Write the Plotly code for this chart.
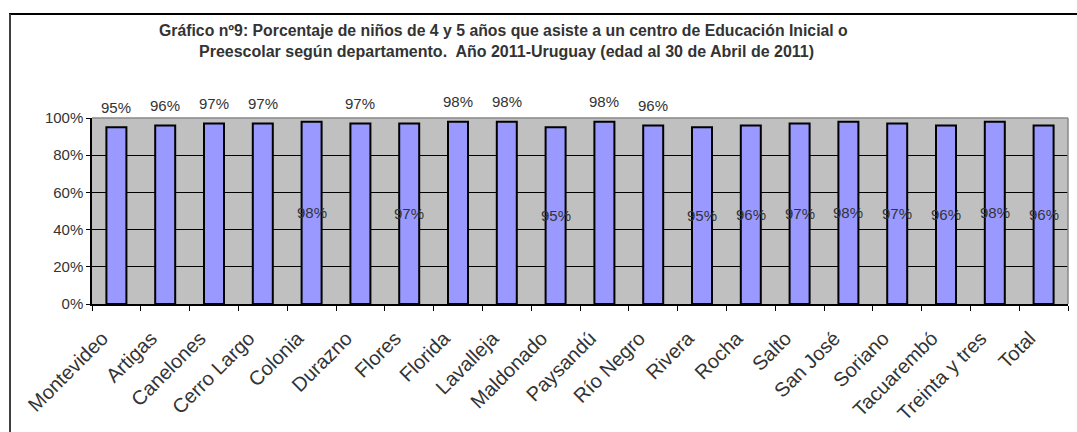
import plotly.graph_objects as go

categories = ["Montevideo", "Artigas", "Canelones", "Cerro Largo", "Colonia", "Durazno",
              "Flores", "Florida", "Lavalleja", "Maldonado", "Paysandú", "Río Negro",
              "Rivera", "Rocha", "Salto", "San José", "Soriano", "Tacuarembó",
              "Treinta y tres", "Total"]
values = [95, 96, 97, 97, 98, 97, 97, 98, 98, 95, 98, 96, 95, 96, 97, 98, 97, 96, 98, 96]
label_pos = ["out", "out", "out", "out", "in", "out", "in", "out", "out", "in",
             "out", "out", "in", "in", "in", "in", "in", "in", "in", "in"]
y_ticks = [0, 20, 40, 60, 80, 100]
y_tick_labels = ["0%", "20%", "40%", "60%", "80%", "100%"]
title_lines = ["Gráfico nº9: Porcentaje de niños de 4 y 5 años que asiste a un centro de Educación Inicial o",
               "Preescolar según departamento.  Año 2011-Uruguay (edad al 30 de Abril de 2011)"]

W, H = 1077, 432
L, R, T, B = 92, 9, 118, 128
pw, ph = W - L - R, H - T - B

def px_to_paper_x(px):
    return (px - L) / pw

def px_to_paper_y(py):
    return (H - B - py) / ph

FONT = "Liberation Sans, Arial, sans-serif"

fig = go.Figure()
fig.add_trace(go.Bar(
    x=categories, y=values,
    marker=dict(color="#9999FF", line=dict(color="#000000", width=2)),
    hoverinfo="x+y",
))

annotations = []
for c, v, p in zip(categories, values, label_pos):
    if p == "out":
        annotations.append(dict(x=c, y=v, xref="x", yref="y", text=f"{v}%",
                                showarrow=False, yanchor="middle", yshift=20,
                                font=dict(family=FONT, size=15, color="#333333")))
    else:
        annotations.append(dict(x=c, y=v / 2, xref="x", yref="y", text=f"{v}%",
                                showarrow=False, yanchor="middle",
                                font=dict(family=FONT, size=15, color="#333333")))

annotations.append(dict(x=px_to_paper_x(503), y=px_to_paper_y(30), xref="paper", yref="paper",
                        text=f"<b>{title_lines[0]}</b>", showarrow=False,
                        xanchor="center", yanchor="middle",
                        font=dict(family=FONT, size=15.8, color="#333333")))
annotations.append(dict(x=px_to_paper_x(506), y=px_to_paper_y(51), xref="paper", yref="paper",
                        text=f"<b>{title_lines[1]}</b>", showarrow=False,
                        xanchor="center", yanchor="middle",
                        font=dict(family=FONT, size=16, color="#333333")))

shapes = [
    dict(type="line", xref="paper", yref="paper",
         x0=px_to_paper_x(9), x1=px_to_paper_x(W + 5), y0=px_to_paper_y(14), y1=px_to_paper_y(14),
         line=dict(color="#000000", width=2)),
    dict(type="line", xref="paper", yref="paper",
         x0=px_to_paper_x(10), x1=px_to_paper_x(10), y0=px_to_paper_y(14), y1=px_to_paper_y(H + 5),
         line=dict(color="#404040", width=2)),
    dict(type="line", xref="paper", yref="paper", x0=0, x1=1, y0=1, y1=1,
         line=dict(color="#888888", width=1.5), layer="above"),
    dict(type="line", xref="paper", yref="paper", x0=1, x1=1, y0=0, y1=1,
         line=dict(color="#888888", width=1.5), layer="above"),
]

fig.update_layout(
    width=W, height=H,
    margin=dict(l=L, r=R, t=T, b=B, pad=0),
    paper_bgcolor="#FFFFFF", plot_bgcolor="#C0C0C0",
    bargap=0.59, showlegend=False,
    annotations=annotations, shapes=shapes,
    font=dict(family=FONT, color="#333333"),
)
fig.update_xaxes(
    tickangle=-45, tickfont=dict(family=FONT, size=20, color="#333333"),
    showline=True, linecolor="#000000", linewidth=1.5,
    ticks="outside", tickson="boundaries", ticklen=5, tickcolor="#000000",
    ticklabelstandoff=13, ticklabelshift=-14,
    showgrid=False, fixedrange=True, automargin=False,
)
fig.update_yaxes(
    range=[0, 100], tickvals=y_ticks, ticktext=y_tick_labels,
    tickfont=dict(family=FONT, size=15, color="#333333"),
    showline=True, linecolor="#000000", linewidth=1.5,
    ticks="outside", ticklen=4, tickcolor="#000000",
    showgrid=True, gridcolor="#000000", gridwidth=1,
    zeroline=False, fixedrange=True, automargin=False,
)

fig.write_html("out.html", config={"displayModeBar": False})
